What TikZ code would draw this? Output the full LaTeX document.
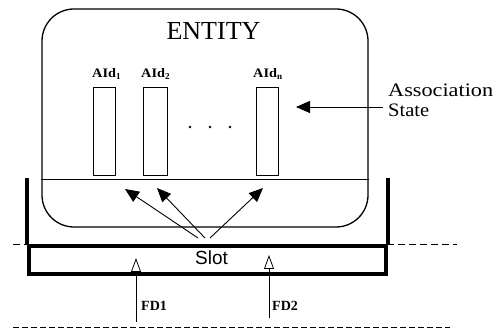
\documentclass[tikz,border=0pt]{standalone}
\usepackage{fontspec}
\setmainfont{Liberation Serif}
\newfontfamily\sansf{Liberation Sans}
\usetikzlibrary{arrows.meta}
\begin{document}
\begin{tikzpicture}[x=1pt,y=-1pt,
  ent/.style={draw, line width=1.3pt, rounded corners=32pt, minimum width=326pt, minimum height=218pt, inner sep=0pt},
  aidbox/.style={draw, line width=1pt, minimum width=22pt, minimum height=88pt, inner sep=0pt},
  aidlbl/.style={font=\bfseries\fontsize{13}{13}\selectfont, inner sep=0pt, anchor=base west},
  slotbox/.style={draw, line width=4pt, minimum width=357pt, minimum height=28pt, inner sep=0pt},
  fill arrow/.style={line width=0.9pt, -{Triangle[length=14pt,width=12pt]}},
  open arrow/.style={line width=0.9pt, -{Triangle[open,length=14pt,width=10pt,line width=0.8pt]}},
  fdlbl/.style={font=\bfseries\fontsize{14}{14}\selectfont, inner sep=0pt, anchor=base west},
  aslbl/.style={font=\fontsize{19}{19}\selectfont, inner sep=0pt, anchor=base west},
  dashline/.style={line width=1pt, dash pattern=on 7pt off 4pt},
]
\useasboundingbox (0,0) rectangle (501,331);
% dashed lines
\draw[dashline] (13,245) -- (457,245);
\draw[line width=1pt, dash pattern=on 6pt off 3pt] (13,327) -- (450,327);
% entity
\node[ent] (entity) at (205,118) {};
\draw[line width=1pt] (entity.west |- 0,180) -- (entity.east |- 0,180);
\node[font=\fontsize{26}{26}\selectfont, inner sep=0pt, anchor=base] (entlbl) at (213.5,40) {ENTITY};
% AId boxes
\node[aidbox] (aid1) at (104,132) {};
\node[aidbox, minimum width=24pt] (aid2) at (155,132) {};
\node[aidbox] (aidn) at (267,132) {};
\node[aidlbl] (aid1l) at (92,78) {\scalebox{1.1}[1]{AId}\textsubscript{1}};
\node[aidlbl] (aid2l) at (141,78) {\scalebox{1.1}[1]{AId}\textsubscript{2}};
\node[aidlbl] (aidnl) at (253,78) {\scalebox{1.1}[1]{AId}\textsubscript{n}};
\fill (190,127) circle (1.3pt) (210,127) circle (1.3pt) (230,127) circle (1.3pt);
% association state
\node[aslbl] (assoc) at (388,97) {\scalebox{1.17}[1]{Association}};
\node[aslbl] (assocb) at (388,117) {\scalebox{1.08}[1]{State}};
\coordinate (asA) at (383,107);
\coordinate (asT) at (296,107);
\draw[fill arrow] (asA) -- (asT);
% slot
\node[slotbox] (slot) at (207.5,260) {};
\draw[line width=4pt] (slot.north west) -- ++(0,-66);
\draw[line width=4pt] (slot.north east) -- ++(0,-66);
\node[font=\sansf\fontsize{19}{19}\selectfont, inner sep=0pt, anchor=base] (slotlbl) at (211.5,265) {Slot};
\coordinate (s1) at (198,238);
\coordinate (s2) at (205,238);
\coordinate (s3) at (210,238);
\coordinate (t1) at (125,189);
\coordinate (t2) at (157,188);
\coordinate (t3) at (263,188);
\draw[fill arrow] (s1) -- (t1);
\draw[fill arrow] (s2) -- (t2);
\draw[fill arrow] (s3) -- (t3);
% FD arrows
\coordinate (fd1s) at (136,322);
\coordinate (fd2s) at (269,318);
\draw[open arrow] (fd1s) -- (136,258);
\draw[open arrow] (fd2s) -- (269,255);
\node[fdlbl] (fd1) at (141,310) {FD1};
\node[fdlbl] (fd2) at (272,310) {FD2};
\end{tikzpicture}
\end{document}
